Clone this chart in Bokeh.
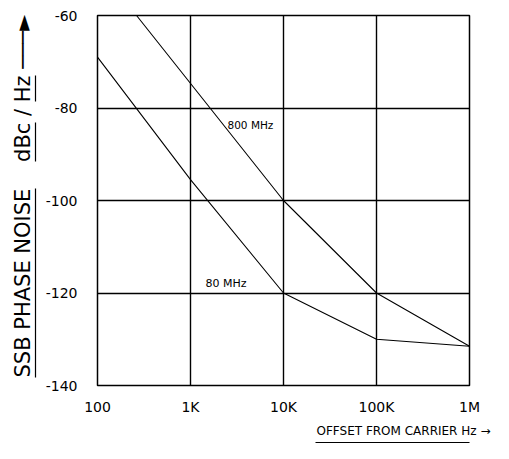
from bokeh.plotting import figure
from bokeh.models import FixedTicker, Label, Title, LinearAxis, LogAxis
from bokeh.embed import file_html
from bokeh.resources import INLINE

# ---- data ----
x_ticks = [100, 1000, 10000, 100000, 1000000]
x_tick_labels = ["100", "1K", "10K", "100K", "1M"]
y_ticks = [-140, -120, -100, -80, -60]
y_tick_labels = ["-140", "-120", "-100", "-80", "-60"]

offset_800 = [263, 10000, 100000, 1000000]
noise_800 = [-60, -100, -120, -131.5]

offset_80 = [100, 1000, 10000, 100000, 1000000]
noise_80 = [-69, -95.5, -120, -130, -131.5]

label_800 = "800 MHz"
label_80 = "80 MHz"
NB = "\u00a0"
x_title = "OFFSET FROM CARRIER Hz \u2192"
y_title = "SSB PHASE NOISE" + NB * 4 + "dBc / Hz \u2500\u2500\u2500\u25ba"

FONT = "DejaVu Sans"

# frame geometry (canvas px)
W, H = 493, 443
FL, FR, FT, FB = 97, 469, 15, 385

p = figure(width=W, height=H, output_backend="svg", toolbar_location=None,
           x_axis_type="log", x_range=(100, 1e6), y_range=(-140, -60),
           min_border_left=FL, min_border_right=W - FR,
           min_border_top=FT, min_border_bottom=H - FB)

# pixel -> data helpers (for annotation placement only)
def X(px):
    return 10 ** (2 + (px - FL) * 4 / (FR - FL))

def Y(py):
    return -60 - (py - FT) * 80 / (FB - FT)

p.outline_line_color = "black"
p.outline_line_width = 1.5
p.background_fill_color = "white"
p.border_fill_color = "white"

for ax in (p.xaxis[0], p.yaxis[0]):
    ax.axis_line_color = None
    ax.major_tick_line_color = None
    ax.minor_tick_line_color = None
    ax.major_tick_out = 0
    ax.major_tick_in = 0
    ax.minor_tick_out = 0
    ax.minor_tick_in = 0
    ax.major_label_text_font = FONT
    ax.major_label_text_color = "black"
    ax.major_label_text_font_size = "14px"

p.xaxis.ticker = FixedTicker(ticks=x_ticks)
p.xaxis.major_label_overrides = {t: l for t, l in zip(x_ticks, x_tick_labels)}
p.xaxis.major_label_standoff = 13
p.yaxis.ticker = FixedTicker(ticks=y_ticks)
p.yaxis.major_label_overrides = {t: l for t, l in zip(y_ticks, y_tick_labels)}
p.yaxis.major_label_standoff = 20
# small spacer between tick labels and the title underline
p.yaxis.axis_label = " "
p.yaxis.axis_label_text_font_size = "2px"
p.yaxis.axis_label_standoff = 2

p.xgrid.grid_line_color = "black"
p.ygrid.grid_line_color = "black"
p.xgrid.grid_line_width = 1.4
p.ygrid.grid_line_width = 1.4
p.xgrid.minor_grid_line_color = None

p.line(offset_800, noise_800, line_color="black", line_width=1.1)
p.line(offset_80, noise_80, line_color="black", line_width=1.1)

p.add_layout(Label(x=X(227), y=Y(124), text=label_800, text_font=FONT,
                   text_font_size="10.5px", text_color="black",
                   text_baseline="alphabetic"))
p.add_layout(Label(x=X(205), y=Y(283), text=label_80, text_font=FONT,
                   text_font_size="11px", text_color="black",
                   text_baseline="alphabetic"))

def underline_axis(cls, bounds, dash="solid"):
    a = cls(bounds=bounds)
    a.ticker = FixedTicker(ticks=[])
    a.major_tick_out = 0
    a.major_tick_in = 0
    a.minor_tick_out = 0
    a.minor_tick_in = 0
    a.major_label_standoff = 0
    a.axis_line_color = "black"
    a.axis_line_width = 1.2
    a.axis_line_dash = dash
    return a

# y title: underline (dashed to leave gaps at spaces), then rotated title
p.add_layout(underline_axis(LinearAxis, (Y(377), Y(75)), "189 27 39 21 27 300"), "left")
p.add_layout(Title(text=y_title, align="left", offset=8, standoff=1,
                   text_font=FONT, text_font_size="21px",
                   text_font_style="normal", text_color="black"), "left")

# x title with underline
p.add_layout(Title(text=x_title, align="left", offset=219, standoff=9,
                   text_font=FONT, text_font_size="12px",
                   text_font_style="normal", text_color="black"), "below")
p.add_layout(underline_axis(LogAxis, (X(315), X(483))), "below")

open("out.html", "w").write(file_html(p, INLINE))
